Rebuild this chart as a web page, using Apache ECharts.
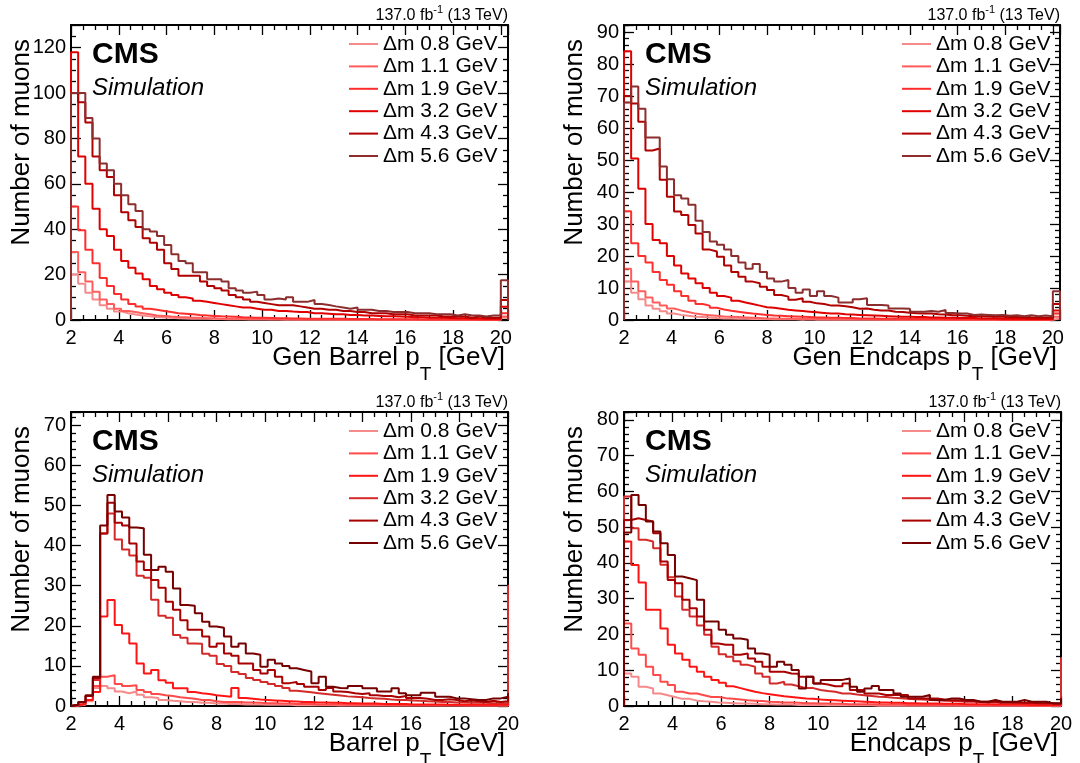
<!DOCTYPE html>
<html><head><meta charset="utf-8">
<script src="https://cdn.jsdelivr.net/npm/echarts@6/dist/echarts.min.js"></script>
<style>html,body{margin:0;padding:0;background:#fff}#c{width:1080px;height:763px}</style>
</head><body><div id="c"></div>
<script>
// ---------------- DATA ----------------
const BIN_START = 2, BIN_WIDTH = 0.3;   // histogram binning (GeV)
const seriesLabels = ['Δm 0.8 GeV','Δm 1.1 GeV','Δm 1.9 GeV','Δm 3.2 GeV','Δm 4.3 GeV','Δm 5.6 GeV'];
const xTickLabels = [2,4,6,8,10,12,14,16,18,20];

// Gen Barrel pT
const genBarrel_dm08 = [20,16,12,9,6.5,5,3.8,3,2.4,2, 1.6,1.3,1.1,1,0.8,0.7,0.6,0.5,0.5,0.4, 0.4,0.3,0.3,0.3,0.2,0.2,0.2,0.2,0.2,0.1, 0.1,0.2,0.1,0.1,0.1,0.1,0.1,0.1,0.2,0.1, 0.1,0.1,0.1,0.1,0.1,0.1,0.1,0.1,0.1,0.1, 0.1,0.1,0.1,0.1,0.1,0.1,0.1,0.1,0.1,0.1];
const genBarrel_dm11 = [30,21,17,12.5,9,7,5,4,3.5,3, 2.5,2,1.8,1.5,1.3,1.2,1,1,0.8,0.8, 0.6,0.6,0.5,0.5,0.4,0.4,0.4,0.3,0.3,0.3, 0.3,0.2,0.2,0.3,0.2,0.2,0.1,0.2,0.1,0.1, 0.2,0.1,0.1,0.1,0.2,0.1,0.1,0.1,0.1,0.1, 0.1,0.1,0.2,0.1,0.1,0.1,0.1,0.1,0.1,0.1];
const genBarrel_dm19 = [50,39.5,31,25,18.5,15,11.5,9,7,6, 5,4.5,4,3.5,3,2.8,2.5,2.2,2,1.8, 1.6,1.5,1.4,1.2,1.1,1,1,0.9,0.8,0.8, 0.7,0.7,0.6,0.6,0.6,0.5,0.5,0.5,0.4,0.4, 0.4,0.4,0.3,0.3,0.3,0.3,0.3,0.3,0.2,0.2, 0.2,0.2,0.2,0.2,0.2,0.2,0.1,0.1,0.1,0.1];
const genBarrel_dm32 = [118,72,60,49,40,37,31,26,23,20.5, 18,15,13.5,12,11,10,9.5,8.5,8,7.5, 7,6.5,6,5.5,5.5,5,4.5,4.5,4,4, 3.7,3.5,3.5,3,3,2.8,2.5,2.5,2.2,2.2, 2,2,1.8,1.6,1.6,1.5,1.4,1.2,1.2,1, 1,1,0.9,0.8,0.8,0.7,0.7,0.6,0.6,0.5];
const genBarrel_dm43 = [100,96,87,72,66,63,55,47.5,44,41, 36,34,31,25,22.5,19.5,19.5,19.5,17,15, 14,13,11,10,9,8,7.5,7,6.5,6.5, 6.5,6,5.5,5,5,4.5,4.5,4,4,3.5, 3.5,3,3,3,2.5,2.5,2.5,2,2,2, 2,1.5,1.5,1.5,1.5,1,1.5,1,1,1];
const genBarrel_dm56 = [100,100,89,80,69,66,60,55,51,48, 40,39,37,33,29,26,25,21,21,18, 18,17,14,13,12,12.5,11,9,9.5,9, 10,8,8,8.8,7,6.6,6,5.5,5,5.5, 4.5,4.5,4,4,3.5,3.5,3.5,3,3,3, 2.5,2.5,2.5,2,2.5,2,2,1.5,2,2];
const genBarrel_overflow = [1,1.5,3,5.8,8.8,17.5];

// Gen Endcaps pT
const genEndcaps_dm08 = [12,8.5,6.5,4.5,3.5,2.7,2,1.6,1.3,1, 0.9,0.8,0.6,0.5,0.5,0.4,0.4,0.3,0.3,0.3, 0.2,0.2,0.2,0.2,0.1,0.2,0.1,0.1,0.1,0.1, 0.1,0.1,0.1,0.1,0.1,0.1,0.1,0.1,0.1,0.1, 0.1,0.1,0.1,0.1,0.1,0.1,0.1,0.1,0.1,0.1, 0.1,0.1,0.1,0.1,0.1,0.1,0.1,0.1,0.1,0.1];
const genEndcaps_dm11 = [16,12,9,7,5.5,4.5,3.6,3,2.5,2, 1.7,1.5,1.3,1.1,1,0.9,0.8,0.7,0.6,0.5, 0.5,0.4,0.4,0.4,0.3,0.3,0.3,0.3,0.2,0.2, 0.2,0.2,0.2,0.2,0.2,0.1,0.2,0.1,0.1,0.1, 0.1,0.1,0.1,0.1,0.1,0.1,0.1,0.1,0.1,0.1, 0.1,0.1,0.1,0.1,0.1,0.1,0.1,0.1,0.1,0.1];
const genEndcaps_dm19 = [34,24,20,18,15,12.5,11,9,7.5,6, 5,4.5,3.8,3.3,2.9,2.6,2.3,2,1.8,1.6, 1.4,1.3,1.2,1.1,1,0.9,0.8,0.8,0.7,0.7, 0.6,0.6,0.5,0.5,0.5,0.4,0.4,0.4,0.4,0.3, 0.3,0.3,0.3,0.3,0.2,0.2,0.2,0.2,0.2,0.2, 0.2,0.2,0.1,0.1,0.1,0.1,0.1,0.1,0.1,0.1];
const genEndcaps_dm32 = [84,50.5,41,30,25,24,20,17,14.5,13, 11.5,10,8.5,7.5,7,6,5.5,5,4.5,4, 3.8,3.5,3.2,3,2.8,2.6,2.4,2.2,2,2, 1.8,1.7,1.6,1.5,1.4,1.3,1.2,1.1,1,1, 0.9,0.9,0.8,0.8,0.7,0.7,0.6,0.6,0.6,0.5, 0.5,0.5,0.4,0.4,0.4,0.4,0.3,0.3,0.3,0.3];
const genEndcaps_dm43 = [70,67.7,62,53,53.6,43.8,38.5,33.9,32.8,29.7, 27,22,21.4,19.8,17,15,13.5,12,11.5,10.4, 9.4,7.8,7.3,6.3,6.8,5.7,5.2,5,4.5,4.5, 4.3,4,3.5,3.6,3.2,3,3,2.6,2.5,2.3, 2.1,2,2,1.8,1.7,1.5,1.5,1.3,1.2,1.2, 1.1,1,1,0.9,0.9,0.8,0.8,0.7,0.7,0.7];
const genEndcaps_dm56 = [68,73,66,57,57,48,44,39,38,36, 31,27.5,24.5,23.5,22,20,18,16,17.5,15, 13,12,12.5,10,8.5,9.5,7.5,9,7.5,7, 5.5,5.5,6.5,6.8,4.7,4.7,4.5,3.6,3.6,3.5, 2.6,2.6,2.8,2.6,3.1,2.2,2,2,1.6,1.7, 1.6,1.5,1.6,1.3,1.5,1.2,1.5,1.2,1.4,1.2];
const genEndcaps_overflow = [0.5,1,2,3,5,9];

// Barrel pT
const barrel_dm08 = [0.1,0.3,1.2,4.5,5,4.4,3.6,3.2,3.6,2.8, 2.2,2,1.5,1.3,1.2,1,1,0.8,0.8,0.6, 0.6,0.5,0.5,0.4,0.4,0.4,0.3,0.3,0.3,0.3, 0.2,0.2,0.2,0.2,0.2,0.2,0.1,0.2,0.1,0.1, 0.1,0.1,0.1,0.1,0.1,0.1,0.1,0.1,0.1,0.1, 0.1,0.1,0.1,0.1,0.1,0.1,0.1,0.1,0.1,0.1];
const barrel_dm11 = [0.2,0.5,1.5,5,7.3,7.7,5.5,5,5.2,4, 3.5,3,2.7,2.5,2.2,2,1.8,1.5,1.5,1.2, 1,1,1,0.9,0.9,0.8,0.7,0.7,0.6,0.6, 0.5,0.5,0.5,0.4,0.4,0.4,0.4,0.3,0.3,0.3, 0.3,0.3,0.3,0.2,0.2,0.2,0.2,0.2,0.2,0.2, 0.2,0.2,0.2,0.1,0.1,0.1,0.1,0.1,0.1,0.1];
const barrel_dm19 = [0.2,0.5,1.5,3.5,22.3,26.4,20.2,18.1,15.6,10.6, 8.1,9,6.4,5.8,4.4,4.4,3.5,3.2,3,2.7, 2.5,2.3,4.5,2,1.8,1.6,1.5,1.4,1.3,1.2, 1.1,1,1,0.9,0.9,0.8,0.8,0.7,0.7,0.6, 0.6,0.6,0.5,0.5,0.5,0.5,0.4,0.4,0.4,0.4, 0.4,0.3,0.3,0.3,0.3,0.3,0.3,0.3,0.3,0.3];
const barrel_dm32 = [0.3,0.8,2.5,6.5,43,48,41.5,39,37.5,32.5, 32,26.5,22.5,22,17.7,17,15.6,15.5,13,12.5, 10.5,10,8.5,8,7,6.5,6,5.5,5,4.5, 3.8,3.6,3.4,3.2,3,2.8,2.6,2.4,2.3,2.2, 2,1.9,1.8,1.6,1.5,1.5,1.4,1.3,1.2,1.1, 1,1,0.9,0.9,0.8,0.8,0.8,0.7,0.7,0.7];
const barrel_dm43 = [0.3,1,2.5,7,43,50.7,45.7,45,40.5,36, 33.9,31.4,29.5,26,24,21.4,19,19,17.3,14.8, 15.6,13.1,12.5,10.6,10.6,9,8.1,9,7.3,5.7, 6,5.5,4.8,4.8,4,4.5,3.6,3.5,3.2,3, 3.2,2.7,2.5,2.5,2.2,2.5,2,2,1.8,1.5, 1.5,1.7,1.5,1.2,1.4,1.2,1,1.3,1,1.2];
const barrel_dm56 = [0.3,1,2.7,7.3,45,52.6,48.5,47,44.5,44.3, 37.7,33.9,34.7,33.5,29.3,25.2,25,23.1,21,19.8, 19.5,17.3,14.8,15.6,13.1,12.8,9.8,11.5,10.6,10, 9.4,9,8.6,5.7,7.3,4.8,4.5,4.4,5,5, 4.4,4.4,3.6,3.6,4.4,3.2,2.7,2.7,3.3,3.3, 2.3,2.3,1.9,1.9,1.7,1.5,1.5,1.9,1.9,2.3];
const barrel_overflow = [1,2,4,30,2,3];

// Endcaps pT
const endcaps_dm08 = [9.1,8.2,5.4,4.9,3.5,3,2.5,2,2,1.5, 1.3,1.2,1,0.9,0.8,0.7,0.7,0.6,0.5,0.5, 0.4,0.4,0.4,0.3,0.3,0.3,0.3,0.2,0.2,0.2, 0.2,0.2,0.2,0.2,0.1,0.1,0.1,0.1,0.1,0.1, 0.1,0.1,0.1,0.1,0.1,0.1,0.1,0.1,0.1,0.1, 0.1,0.1,0.1,0.1,0.1,0.1,0.1,0.1,0.1,0.1];
const endcaps_dm11 = [23.1,16.1,14.3,11,8.7,6.8,5.9,4,3.5,3.5, 3,2.5,2.5,2.2,2,1.8,1.6,1.5,1.4,1.2, 1.1,1,1,0.9,0.8,0.8,0.7,0.7,0.6,0.6, 0.5,0.5,0.5,0.5,0.4,0.4,0.4,0.4,0.3,0.3, 0.3,0.3,0.3,0.3,0.2,0.2,0.2,0.2,0.2,0.2, 0.2,0.2,0.2,0.2,0.1,0.1,0.1,0.1,0.1,0.1];
const endcaps_dm19 = [46,39.4,34.5,26.9,26.9,21.7,17.1,14.7,12.9,11, 9.6,8.2,7.3,6.5,5.5,5,4.5,4,3.6,3.3, 3,2.7,2.5,2.3,2.1,2,1.8,1.7,1.6,1.5, 1.4,1.3,1.2,1.1,1,1,0.9,0.9,0.8,0.8, 0.7,0.7,0.7,0.6,0.6,0.6,0.5,0.5,0.5,0.5, 0.4,0.4,0.4,0.4,0.4,0.3,0.3,0.3,0.3,0.3];
const endcaps_dm32 = [58.6,49.7,46.5,46,44.1,39.5,36,30.6,26.9,25, 22.5,19.9,16.6,14.5,13.8,12.5,11.5,11,9.1,8.2, 6.3,6.8,6,5.5,5,5,4.5,4.2,4,3.5, 3.5,3.2,3,2.8,2.6,2.5,2.3,2.2,2,1.9, 1.8,1.7,1.6,1.5,1.4,1.3,1.2,1.2,1.1,1, 1,0.9,0.9,0.8,0.8,0.8,0.7,0.7,0.7,0.6];
const endcaps_dm43 = [52,52.5,52,51.6,48.3,40.4,35.2,34.3,29.7,27.3, 25,21.3,17.5,17.1,17.1,14.3,14.7,13.3,12.4,11, 9.6,9.6,9.1,9,8.2,8.2,6.3,6,5.5,5.5, 6.3,4.5,4.5,3.5,3.5,3.1,3.1,3.1,3.1,2.1, 2.1,2.1,2.1,1.8,1.6,1.6,1.4,1.4,1.2,1.2, 1.2,1,1,1,0.9,0.9,0.8,0.8,0.8,0.7];
const endcaps_dm56 = [48.5,59,56.2,51.6,48.8,45.5,42.2,36.2,35.7,35.2, 29.7,23.6,23.6,21.3,19.9,18.9,18.5,16.1,14.7,14.3, 11,12.4,11.5,10.1,4.9,8.2,6.3,7.3,7.3,7.3, 7.7,5.4,4,4.9,5.6,4.5,4.5,3.5,2.6,2.6, 2.6,3.1,1.7,1.7,2.1,2.1,1.7,1.7,1.2,1.2, 1.7,1.2,1.2,1.2,1.7,1.2,1.2,1.2,0.7,0.7];
const endcaps_overflow = [1,1.5,3,13.4,1.5,2];

// ---------------- STYLE / LAYOUT ----------------
const F = "'Liberation Sans', Arial, Helvetica, sans-serif";
const topColors = ['#f58a8a','#ff5c5c','#ff2e2e','#e00000','#b00000','#8c2e2e'];
const bottomColors = ['#f58a8a','#ff4a4a','#ff1414','#d42a2a','#a80000','#760000'];

const panels = [
  {hists:[genBarrel_dm08,genBarrel_dm11,genBarrel_dm19,genBarrel_dm32,genBarrel_dm43,genBarrel_dm56], ovf:genBarrel_overflow,
   xt:['Gen Barrel p','T',' [GeV]'], box:{l:71,t:25,w:437,h:295}, xMax:20.3, yMax:130, yInt:20, yMinor:4, colors:topColors, sfx:''},
  {hists:[genEndcaps_dm08,genEndcaps_dm11,genEndcaps_dm19,genEndcaps_dm32,genEndcaps_dm43,genEndcaps_dm56], ovf:genEndcaps_overflow,
   xt:['Gen Endcaps p','T',' [GeV]'], box:{l:624,t:25,w:436,h:295}, xMax:20.3, yMax:92.2, yInt:10, yMinor:5, colors:topColors, sfx:''},
  {hists:[barrel_dm08,barrel_dm11,barrel_dm19,barrel_dm32,barrel_dm43,barrel_dm56], ovf:barrel_overflow,
   xt:['Barrel p','T',' [GeV]'], box:{l:71,t:412,w:437,h:294}, xMax:20, yMax:73.3, yInt:10, yMinor:5, colors:bottomColors, sfx:'\u200b'},
  {hists:[endcaps_dm08,endcaps_dm11,endcaps_dm19,endcaps_dm32,endcaps_dm43,endcaps_dm56], ovf:endcaps_overflow,
   xt:['Endcaps p','T',' [GeV]'], box:{l:624,t:412,w:437,h:294}, xMax:20, yMax:82.2, yInt:10, yMinor:5, colors:bottomColors, sfx:'\u200b'}
];

function histPoints(vals, ovf) {
  const pts = [[BIN_START, 0]];
  vals.forEach((v, i) => pts.push([BIN_START + BIN_WIDTH * i, v]));
  const xEnd = BIN_START + BIN_WIDTH * vals.length;
  pts.push([xEnd, ovf]);
  pts.push([xEnd + BIN_WIDTH, ovf]);
  pts.push([xEnd + BIN_WIDTH, 0]);
  return pts;
}

const grid = [], xAxis = [], yAxis = [], series = [], legend = [], graphic = [];
const black = '#000';
panels.forEach((p, i) => {
  const b = p.box;
  grid.push({left:b.l, top:b.t, width:b.w, height:b.h, containLabel:false, outerBoundsMode:'none'});
  const common = {
    gridIndex:i, type:'value', splitLine:{show:false}, minorSplitLine:{show:false},
    axisLine:{show:true, onZero:false, lineStyle:{color:black, width:2}},
    axisTick:{show:true, inside:true, length:10, lineStyle:{color:black, width:1.3}}
  };
  const xLabels = {show:true, color:black, fontSize:20, fontFamily:F, margin:8,
    showMinLabel:true, showMaxLabel: p.xMax === 20,
    formatter: v => (xTickLabels.indexOf(Math.round(v*1000)/1000) >= 0 ? String(Math.round(v)) : '')};
  xAxis.push(Object.assign({}, common, {position:'bottom', min:2, max:p.xMax, interval:2,
    minorTick:{show:true, splitNumber:4, length:5, lineStyle:{color:black, width:1.3}}, axisLabel:xLabels}));
  xAxis.push(Object.assign({}, common, {position:'top', min:2, max:p.xMax, interval:2,
    minorTick:{show:true, splitNumber:4, length:5, lineStyle:{color:black, width:1.3}}, axisLabel:{show:false}}));
  const yLabels = {show:true, color:black, fontSize:20, fontFamily:F, margin:5, showMinLabel:true, showMaxLabel:false};
  yAxis.push(Object.assign({}, common, {position:'left', min:0, max:p.yMax, interval:p.yInt,
    minorTick:{show:true, splitNumber:p.yMinor, length:5, lineStyle:{color:black, width:1.3}}, axisLabel:yLabels}));
  yAxis.push(Object.assign({}, common, {position:'right', min:0, max:p.yMax, interval:p.yInt,
    minorTick:{show:true, splitNumber:p.yMinor, length:5, lineStyle:{color:black, width:1.3}}, axisLabel:{show:false}}));

  const names = seriesLabels.map(s => s + p.sfx);
  p.hists.forEach((h, k) => {
    series.push({
      type:'line', name:names[k], xAxisIndex:2*i, yAxisIndex:2*i, step:'end',
      symbol:'none', showSymbol:false, silent:true, animation:false, clip:true,
      lineStyle:{color:p.colors[k], width:2}, itemStyle:{color:p.colors[k]},
      data: histPoints(h, p.ovf[k]), z: 3 + k
    });
  });
  legend.push({
    orient:'vertical', left:b.l + 278, top:b.t + 8, padding:0, itemWidth:29, itemHeight:2, itemGap:0.4,
    icon:'rect', selectedMode:false, data:names,
    textStyle:{fontSize:21, lineHeight:22, color:black, fontFamily:F}
  });

  const fr = b.l + b.w, fb = b.t + b.h;
  graphic.push({type:'text', x:b.l + 21, y:b.t + 30, silent:true,
    style:{text:'CMS', fontSize:30, fontWeight:'bold', fontFamily:F, fill:black, textAlign:'left', align:'left', textVerticalAlign:'middle', verticalAlign:'middle'}});
  graphic.push({type:'text', x:b.l + 21, y:b.t + 63, silent:true,
    style:{text:'Simulation', fontSize:24, fontStyle:'italic', fontFamily:F, fill:black, textAlign:'left', align:'left', textVerticalAlign:'middle', verticalAlign:'middle'}});
  graphic.push({type:'text', x:fr, y:b.t - 21, silent:true,
    style:{text:'{m|137.0 fb}{s|-1}{m| (13 TeV)}', fontFamily:F, fill:black, textAlign:'right', align:'right', textVerticalAlign:'top', verticalAlign:'top',
      rich:{m:{fontSize:16, fontFamily:F, fill:black, color:black, padding:[4,0,0,0], verticalAlign:'top'},
            s:{fontSize:11, fontFamily:F, fill:black, color:black, verticalAlign:'top'}}}});
  graphic.push({type:'text', x:fr - 3, y:fb + 25, silent:true,
    style:{text:'{m|' + p.xt[0] + '}{s|' + p.xt[1] + '}{m|' + p.xt[2] + '}', fontFamily:F, fill:black, textAlign:'right', align:'right', textVerticalAlign:'top', verticalAlign:'top',
      rich:{m:{fontSize:26, fontFamily:F, fill:black, color:black, verticalAlign:'top'},
            s:{fontSize:19, fontFamily:F, fill:black, color:black, padding:[20,0,0,0], verticalAlign:'top'}}}});
  graphic.push({type:'text', x:b.l - 62, y:b.t + 14, rotation:Math.PI/2, silent:true,
    style:{text:'Number of muons', fontSize:26, fontFamily:F, fill:black, textAlign:'right', align:'right', textVerticalAlign:'top', verticalAlign:'top'}});
});

const chart = echarts.init(document.getElementById('c'), null, {renderer:'canvas', width:1080, height:763});
chart.setOption({animation:false, backgroundColor:'#fff', grid, xAxis, yAxis, series, legend, graphic, tooltip:{show:false}});
</script>
</body></html>
